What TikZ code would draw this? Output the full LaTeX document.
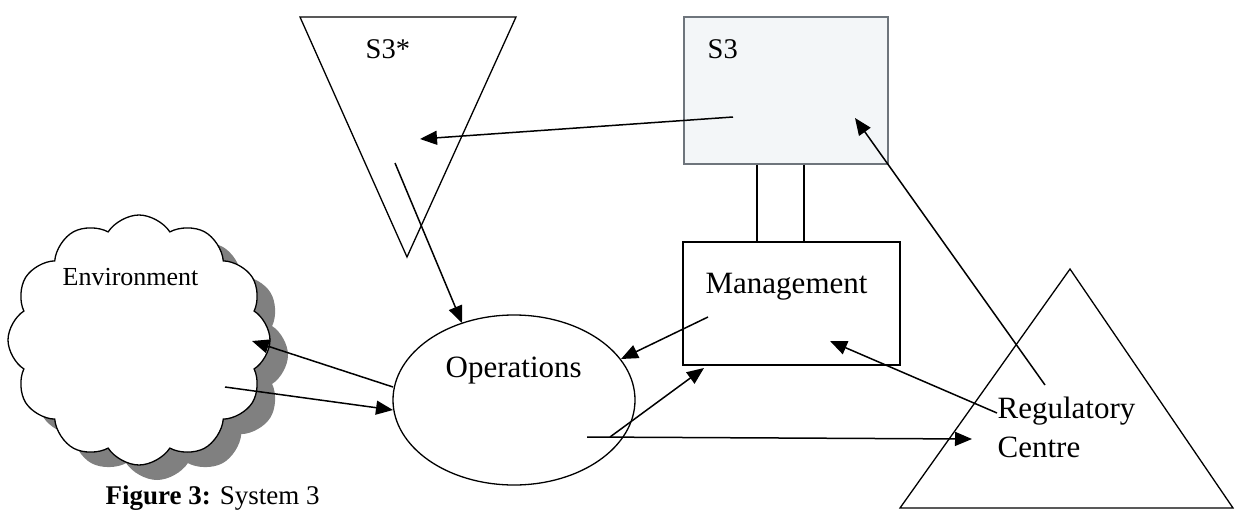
\documentclass[tikz,border=0pt]{standalone}
\usepackage{fontspec}
\setmainfont{Liberation Serif}
\usetikzlibrary{shapes.symbols,shapes.geometric,arrows.meta}
\definecolor{boxfill}{HTML}{F3F6F8}
\definecolor{boxline}{HTML}{6E757C}

\tikzset{
  arr/.style={line width=1.5pt,-{Triangle[length=17pt,width=14pt]}},
  lbl/.style={anchor=base west,inner sep=0pt,font=\fontsize{31}{36}\selectfont},
  puff/.style={cloud,cloud puffs=12,cloud puff arc=115,aspect=1.05,minimum width=262pt,minimum height=250pt}
}

\begin{document}
\begin{tikzpicture}[x=1pt,y=-1pt,line width=1.3pt]
\useasboundingbox (0,0) rectangle (1239,511);

\node[puff,fill=black!50] (envshadow) at (157,355) {};
\node[puff,draw,fill=white] (env) at (139,340) {};
\node[lbl,font=\fontsize{26}{30}\selectfont] (envtext) at (62,285) {Environment};

\draw (300,17) -- (516,17) -- (407,257) -- cycle;
\node[lbl,font=\fontsize{28.5}{32}\selectfont] (s3startext) at (365,59) {S3*};

\node[draw=boxline,fill=boxfill,minimum width=204pt,minimum height=147pt,inner sep=0pt] (s3) at (786,90.5) {};
\node[lbl,font=\fontsize{28.5}{32}\selectfont] (s3text) at (707,59) {S3};

\node[draw,minimum width=217pt,minimum height=123pt,inner sep=0pt] (mgmt) at (791.5,303.5) {};
\node[lbl] (mgmttext) at (705,293) {Management};

\node[draw,ellipse,minimum width=242pt,minimum height=170pt,inner sep=0pt] (ops) at (514,400) {};
\node[lbl] (opstext) at (445,377) {Operations};

\draw (1070,269) -- (1233,508) -- (900,508) -- cycle;
\node[lbl] (regtext) at (997,418) {Regulatory};
\node[lbl] (centtext) at (997,457) {Centre};

\node[lbl,font=\fontsize{27}{32}\selectfont] (caption) at (105,504) {\textbf{Figure 3:} System 3};

\draw (757,0 |- s3.south) -- (757,0 |- mgmt.north);
\draw (804,0 |- s3.south) -- (804,0 |- mgmt.north);

\coordinate (s3a) at (733,117);
\coordinate (s3b) at (855,118);
\coordinate (stara) at (420,139);
\coordinate (starb) at (395,163);
\coordinate (opsa) at (462,323);
\coordinate (opsb) at (393,387);
\coordinate (opsc) at (393,410);
\coordinate (opsd) at (621,359);
\coordinate (opse) at (610,437);
\coordinate (opsf) at (587,437);
\coordinate (enva) at (252,341);
\coordinate (envb) at (225,387);
\coordinate (mgmta) at (708,317);
\coordinate (mgmtb) at (704,368);
\coordinate (mgmtc) at (830,341);
\coordinate (rega) at (972,439);
\coordinate (regb) at (997,413);
\coordinate (regc) at (1045,385);

\draw[arr] (s3a) -- (stara);
\draw[arr] (starb) -- (opsa);
\draw[arr] (opsb) -- (enva);
\draw[arr] (envb) -- (opsc);
\draw[arr] (mgmta) -- (opsd);
\draw[arr] (opse) -- (mgmtb);
\draw[arr] (opsf) -- (rega);
\draw[arr] (regb) -- (mgmtc);
\draw[arr] (regc) -- (s3b);
\end{tikzpicture}
\end{document}
